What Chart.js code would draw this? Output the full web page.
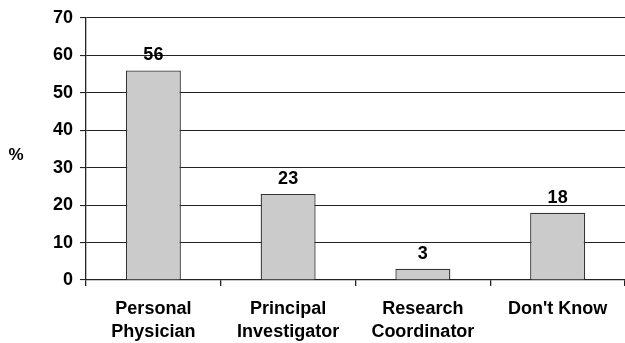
<!DOCTYPE html>
<html><head><meta charset="utf-8">
<script src="https://cdn.jsdelivr.net/npm/chart.js@4/dist/chart.umd.min.js"></script>
<style>html,body{margin:0;padding:0;background:#fff;overflow:hidden}#wrap{width:625px;height:343px;position:relative}</style>
</head><body><div id="wrap"><canvas id="c"></canvas></div>
<script>
const categories = [["Personal","Physician"],["Principal","Investigator"],["Research","Coordinator"],["Don't Know"]];
const values = [56, 23, 3, 18];
const yTicks = [0,10,20,30,40,50,60,70];

const FONT = "'Liberation Sans', Arial, sans-serif";
const labelPlugin = {
  id: 'labels',
  afterDatasetsDraw(chart){
    const ctx = chart.ctx;
    const meta = chart.getDatasetMeta(0);
    ctx.save();
    ctx.font = "bold 18px " + FONT;
    ctx.fillStyle = '#000';
    ctx.textAlign = 'center';
    ctx.textBaseline = 'alphabetic';
    meta.data.forEach((bar,i)=>{
      ctx.fillText(String(values[i]), bar.x, bar.y - 10);
    });
    ctx.font = "bold 17px " + FONT;
    ctx.textBaseline = 'middle';
    const a = chart.chartArea;
    ctx.fillText('%', 16, (a.top + a.bottom)/2 + 6);
    ctx.restore();
  }
};

new Chart(document.getElementById('c'), {
  type: 'bar',
  data: {
    labels: categories,
    datasets: [{
      data: values,
      backgroundColor: '#cbcbcb',
      borderColor: '#333',
      borderWidth: 1.3,
      barPercentage: 0.408,
      categoryPercentage: 1.0
    }]
  },
  options: {
    responsive: true,
    maintainAspectRatio: false,
    animation: false,
    devicePixelRatio: 1,
    layout: { padding: { top: 18, right: 0, left: 0, bottom: 0 } },
    plugins: { legend: { display: false }, tooltip: { enabled: false } },
    scales: {
      x: {
        grid: { drawOnChartArea: false, drawTicks: true, tickLength: 6, offset: true, color: '#222', lineWidth: 1.3 },
        border: { color: '#222', width: 1.3 },
        ticks: { color: '#000', font: { family: FONT, size: 18, weight: 'bold', lineHeight: 1.25 }, padding: 12, maxRotation: 0, autoSkip: false },
        afterFit(s){ s.height = 63; }
      },
      y: {
        min: 0, max: 70,
        afterBuildTicks(s){ s.ticks = yTicks.map(v=>({value:v})); },
        grid: { color: '#222', lineWidth: 1.1, tickLength: 6, drawTicks: true },
        border: { color: '#222', width: 1.3 },
        ticks: { color: '#000', font: { family: FONT, size: 18, weight: 'bold' }, padding: 7 },
        afterFit(s){ s.width = 86; }
      }
    }
  },
  plugins: [labelPlugin]
});
</script></body></html>
